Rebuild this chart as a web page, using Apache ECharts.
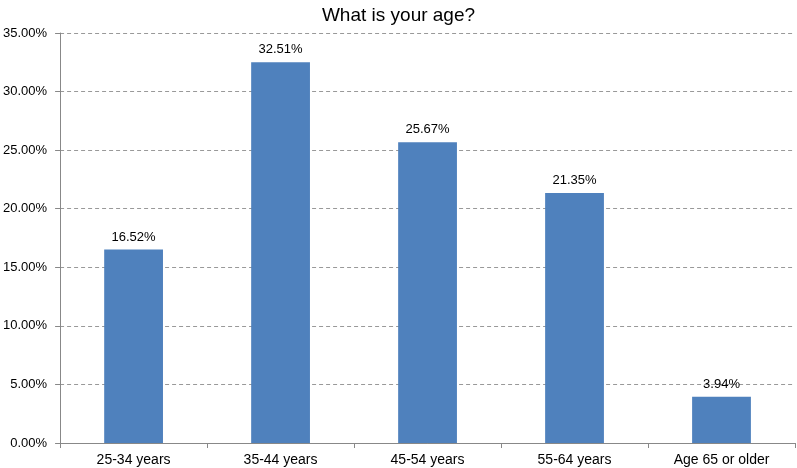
<!DOCTYPE html>
<html>
<head>
<meta charset="utf-8">
<script src="https://cdn.jsdelivr.net/npm/echarts@6/dist/echarts.min.js"></script>
<style>
  html, body { margin: 0; padding: 0; background: #fff; }
  #chart { width: 797px; height: 468px; }
</style>
</head>
<body>
<div id="chart"></div>
<script>
const categories = ['25-34 years', '35-44 years', '45-54 years', '55-64 years', 'Age 65 or older']
const values = [16.52, 32.51, 25.67, 21.35, 3.94]

const myChart = echarts.init(document.getElementById('chart'))
const font = '"Liberation Sans", Arial, sans-serif'

const option = {
  animation: false,
  title: {
    text: 'What is your age?',
    left: 'center',
    top: 1,
    textStyle: { fontFamily: font, fontSize: 19, fontWeight: 'normal', color: '#000' }
  },
  grid: { left: 59, right: 2, top: 33, bottom: 25 },
  xAxis: {
    type: 'category',
    data: categories,
    axisLine: { lineStyle: { color: '#888', width: 1 } },
    axisTick: { show: true, alignWithLabel: false, length: 5, lineStyle: { color: '#888' } },
    axisLabel: { fontFamily: font, fontSize: 14, color: '#000', margin: 10 }
  },
  yAxis: {
    type: 'value',
    min: 0,
    max: 35,
    interval: 5,
    axisLine: { show: true, lineStyle: { color: '#888', width: 1 } },
    axisTick: { show: true, length: 5, lineStyle: { color: '#888' } },
    axisLabel: {
      fontFamily: font, fontSize: 13, color: '#000', margin: 13,
      formatter: v => v.toFixed(2) + '%'
    },
    splitLine: { lineStyle: { color: '#999', type: [4, 3], width: 1 } }
  },
  series: [{
    type: 'bar',
    data: values,
    barWidth: '40%',
    itemStyle: { color: '#4f81bd' },
    label: {
      show: true,
      position: 'top',
      distance: 6,
      fontFamily: font,
      fontSize: 13,
      color: '#000',
      formatter: p => p.value.toFixed(2) + '%'
    }
  }]
}
myChart.setOption(option)

window.addEventListener('resize', () => {
  myChart.resize()
})
</script>
</body>
</html>
